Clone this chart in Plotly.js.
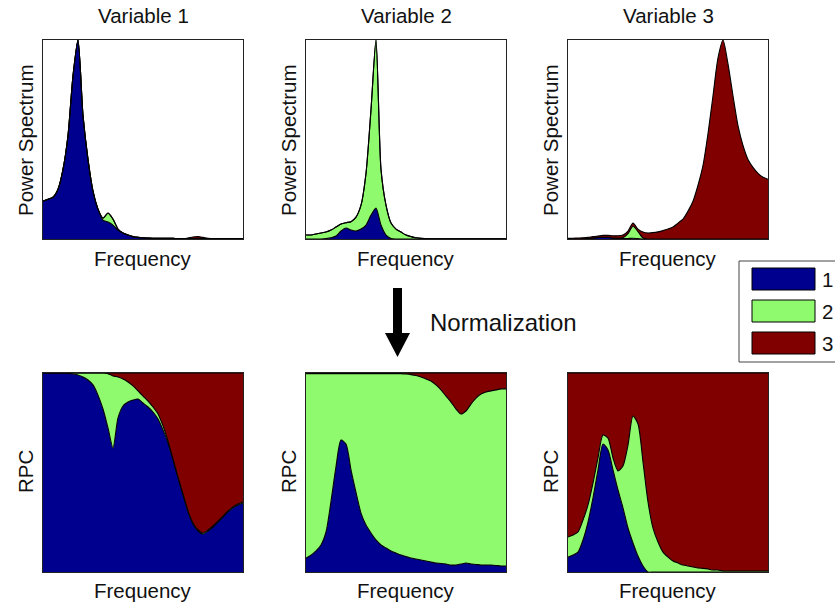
<!DOCTYPE html>
<html><head><meta charset="utf-8">
<script src="https://cdn.plot.ly/plotly-3.0.1.min.js"></script>
<style>html,body{margin:0;padding:0;background:#fff;}#chart{width:835px;height:605px;}</style>
</head><body><div id="chart"></div>
<script>
// Frequency grid (sample index)
const freq = [0,1,2,3,4,5,6,7,8,9,10,11,12,13,14,15,16,17,18,19,20,21,22,23,24,25,26,27,28,29,30,31,32,33,34,35,36,37,38,39,40];
const componentNames = ['1','2','3'];
const variableTitles = ['Variable 1','Variable 2','Variable 3'];

// Power spectra (stacked contributions of components 1,2,3)
const psV1c1 = [0.19,0.20,0.21,0.25,0.35,0.52,0.82,1.0,0.62,0.40,0.24,0.15,0.095,0.085,0.07,0.045,0.03,0.02,0.012,0.008,0.006,0.005,0.004,0.004,0.003,0.003,0.003,0.002,0.002,0.002,0.002,0.002,0.002,0.002,0.002,0.002,0.002,0.002,0.002,0.002,0.002];
const psV1c2 = [0,0,0,0,0,0,0,0,0,0,0,0,0.01,0.045,0.03,0.005,0,0,0,0,0,0,0,0,0,0,0,0,0,0,0,0,0,0,0,0,0,0,0,0,0];
const psV1c3 = [0,0,0,0,0,0,0,0,0,0,0,0,0,0,0,0,0,0,0,0,0,0,0,0,0,0,0,0,0,0.003,0.008,0.01,0.006,0.002,0,0,0,0,0,0,0];

const psV2c1 = [0,0,0,0,0.002,0.006,0.015,0.04,0.055,0.045,0.04,0.05,0.07,0.12,0.155,0.07,0.02,0.003,0,0,0,0,0,0,0,0,0,0,0,0,0,0,0,0,0,0,0,0,0,0,0];
const psV2c2 = [0.02,0.02,0.025,0.03,0.033,0.039,0.045,0.035,0.027,0.042,0.07,0.12,0.26,0.53,0.845,0.28,0.15,0.077,0.05,0.035,0.02,0.012,0.006,0.003,0.002,0.001,0.001,0.001,0.001,0.001,0.001,0.001,0.001,0.001,0.001,0.001,0.001,0.001,0.001,0.001,0.001];
const psV2c3 = [0,0,0,0,0,0,0,0,0,0,0,0,0,0,0,0,0,0,0,0,0,0,0,0,0,0,0,0,0,0,0,0,0,0,0,0,0,0,0,0,0];

const psV3c1 = [0,0,0,0.001,0.002,0.005,0.008,0.009,0.008,0.005,0.003,0.002,0.002,0.004,0.002,0,0,0,0,0,0,0,0,0,0,0,0,0,0,0,0,0,0,0,0,0,0,0,0,0,0];
const psV3c2 = [0,0,0,0,0,0,0,0,0,0,0,0.005,0.025,0.06,0.035,0.005,0,0,0,0,0,0,0,0,0,0,0,0,0,0,0,0,0,0,0,0,0,0,0,0,0];
const psV3c3 = [0.003,0.004,0.005,0.005,0.006,0.007,0.007,0.009,0.010,0.011,0.013,0.013,0.013,0.016,0.013,0.03,0.03,0.032,0.036,0.042,0.05,0.06,0.08,0.10,0.14,0.19,0.27,0.37,0.53,0.72,0.91,1.0,0.88,0.72,0.57,0.47,0.40,0.36,0.33,0.31,0.30];

// Relative power contributions (RPC) after normalization
const rpcV1c1 = [1.0,1.0,1.0,1.0,1.0,0.998,0.995,0.99,0.98,0.965,0.94,0.889,0.819,0.724,0.623,0.774,0.834,0.854,0.864,0.869,0.849,0.829,0.804,0.769,0.714,0.648,0.563,0.472,0.387,0.302,0.241,0.206,0.191,0.206,0.226,0.251,0.276,0.302,0.322,0.337,0.347];
const rpcV1c2 = [0,0,0,0,0,0.002,0.005,0.01,0.02,0.035,0.06,0.111,0.181,0.273,0.362,0.206,0.136,0.101,0.071,0.041,0.035,0.03,0.025,0.025,0.02,0.01,0.005,0.005,0.005,0.005,0.005,0.005,0.005,0.005,0.005,0.005,0.005,0.005,0.005,0.005,0.005];
const rpcV1c3 = [0,0,0,0,0,0,0,0,0,0,0,0,0,0.003,0.015,0.02,0.03,0.045,0.065,0.09,0.116,0.141,0.171,0.206,0.266,0.342,0.432,0.523,0.608,0.693,0.754,0.789,0.804,0.789,0.769,0.744,0.719,0.693,0.673,0.658,0.648];

const rpcV2c1 = [0.07,0.085,0.106,0.136,0.201,0.355,0.53,0.663,0.643,0.513,0.40,0.296,0.236,0.196,0.161,0.136,0.121,0.106,0.095,0.085,0.078,0.07,0.065,0.06,0.055,0.05,0.045,0.043,0.04,0.035,0.035,0.04,0.045,0.04,0.038,0.035,0.035,0.035,0.033,0.03,0.03];
const rpcV2c2 = [0.927,0.912,0.891,0.861,0.796,0.642,0.467,0.334,0.354,0.484,0.597,0.701,0.761,0.801,0.836,0.861,0.876,0.891,0.902,0.912,0.917,0.922,0.922,0.92,0.915,0.91,0.895,0.872,0.844,0.819,0.784,0.754,0.764,0.804,0.836,0.859,0.87,0.875,0.882,0.89,0.89];
const rpcV2c3 = [0.003,0.003,0.003,0.003,0.003,0.003,0.003,0.003,0.003,0.003,0.003,0.003,0.003,0.003,0.003,0.003,0.003,0.003,0.003,0.003,0.005,0.008,0.013,0.02,0.03,0.04,0.06,0.085,0.116,0.146,0.181,0.206,0.191,0.156,0.126,0.106,0.095,0.09,0.085,0.08,0.08];

const rpcV3c1 = [0.075,0.085,0.1,0.161,0.251,0.372,0.513,0.643,0.613,0.513,0.412,0.322,0.221,0.146,0.08,0.03,0,0,0,0,0,0,0,0,0,0,0,0,0,0,0,0,0,0,0,0,0,0,0,0,0];
const rpcV3c2 = [0.101,0.101,0.101,0.10,0.086,0.075,0.06,0.045,0.06,0.06,0.096,0.211,0.417,0.638,0.664,0.523,0.352,0.221,0.151,0.10,0.075,0.055,0.045,0.035,0.03,0.025,0.02,0.018,0.015,0.01,0.01,0.005,0.005,0.005,0.005,0.005,0.005,0.005,0.005,0.005,0.005];
const rpcV3c3 = [0.824,0.814,0.799,0.739,0.663,0.553,0.427,0.312,0.327,0.427,0.492,0.467,0.362,0.216,0.256,0.447,0.648,0.779,0.849,0.90,0.925,0.945,0.955,0.965,0.97,0.975,0.98,0.982,0.985,0.99,0.99,0.995,0.995,0.995,0.995,0.995,0.995,0.995,0.995,0.995,0.995];

const COLORS = ['#00008F', '#8FFA6E', '#800000'];
const W = 835, H = 605;
const px = v => v / W;
const py = v => 1 - v / H;

const panels = [
  {series:[psV1c1,psV1c2,psV1c3], x0:43, x1:243, y0:40, y1:239},
  {series:[psV2c1,psV2c2,psV2c3], x0:306, x1:506, y0:40, y1:239},
  {series:[psV3c1,psV3c2,psV3c3], x0:568, x1:768, y0:40, y1:239},
  {series:[rpcV1c1,rpcV1c2,rpcV1c3], x0:43, x1:243, y0:373, y1:572},
  {series:[rpcV2c1,rpcV2c2,rpcV2c3], x0:306, x1:506, y0:373, y1:572},
  {series:[rpcV3c1,rpcV3c2,rpcV3c3], x0:568, x1:768, y0:373, y1:572}
];

const traces = [];
const layout = {
  width: W, height: H, margin:{l:0,r:0,t:0,b:0},
  paper_bgcolor:'#fff', plot_bgcolor:'#fff', showlegend:false,
  font:{family:'Liberation Sans, Arial, sans-serif', color:'#111'},
  annotations:[], shapes:[]
};

panels.forEach((p, i) => {
  const n = i + 1;
  const xa = 'x' + (n === 1 ? '' : n), ya = 'y' + (n === 1 ? '' : n);
  p.series.forEach((s, k) => {
    traces.push({
      x: freq, y: s, xaxis: xa, yaxis: ya, type:'scatter', mode:'lines',
      stackgroup:'g' + n, name: componentNames[k],
      line:{color:'#000', width:1.1, shape:'spline', smoothing:0.7},
      fillcolor: COLORS[k], hoverinfo:'skip'
    });
  });
  const ax = {showline:true, mirror:true, linecolor:'#222', linewidth:1, showticklabels:false,
              ticks:'', showgrid:false, zeroline:false, fixedrange:true};
  layout['xaxis' + (n === 1 ? '' : n)] = Object.assign({}, ax, {domain:[px(p.x0), px(p.x1)], range:[0,40], anchor: ya});
  layout['yaxis' + (n === 1 ? '' : n)] = Object.assign({}, ax, {domain:[py(p.y1), py(p.y0)], range:[0,1], anchor: xa});
});

function label(text, x, y, size, angle) {
  layout.annotations.push({text:text, xref:'paper', yref:'paper', x:px(x), y:py(y),
    xanchor:'center', yanchor:'middle', showarrow:false, textangle: angle || 0,
    font:{size:size, family:'Liberation Sans, Arial, sans-serif', color:'#111'}});
}
const centers = [143, 406, 668];
centers.forEach((c, i) => {
  label(variableTitles[i], c, 16, 20.5);
  label('Frequency', c, 258, 20.5);
  label('Frequency', c, 590, 20.5);
});
[25, 288, 550].forEach(x => {
  label('Power Spectrum', x, 140, 20.5, -90);
  label('RPC', x, 472, 20.5, -90);
});
label('Normalization', 503, 322, 24);

// arrow
layout.shapes.push({type:'rect', xref:'paper', yref:'paper', x0:px(393), x1:px(402), y0:py(288), y1:py(336), fillcolor:'#000', line:{width:0}});
layout.shapes.push({type:'path', xref:'paper', yref:'paper',
  path:'M '+px(385)+' '+py(333)+' L '+px(410)+' '+py(333)+' L '+px(397.5)+' '+py(357)+' Z',
  fillcolor:'#000', line:{width:0}});

// legend box
layout.shapes.push({type:'rect', xref:'paper', yref:'paper', x0:px(739), x1:px(840), y0:py(261), y1:py(362), fillcolor:'#fff', line:{color:'#444', width:1}});
const legTops = [268, 300, 332];
legTops.forEach((t, k) => {
  layout.shapes.push({type:'rect', xref:'paper', yref:'paper', x0:px(752), x1:px(815), y0:py(t), y1:py(t+22), fillcolor:COLORS[k], line:{color:'#000', width:1}});
  label(componentNames[k], 827, t + 11, 20.5);
});

Plotly.newPlot('chart', traces, layout, {displayModeBar:false, staticPlot:true});
</script></body></html>
